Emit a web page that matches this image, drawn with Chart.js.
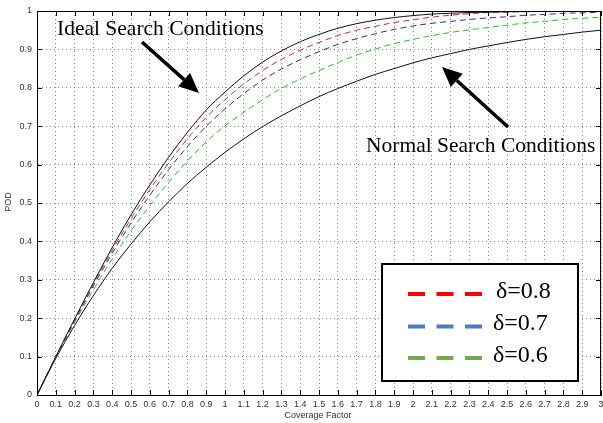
<!DOCTYPE html>
<html>
<head>
<meta charset="utf-8">
<script src="https://cdn.jsdelivr.net/npm/chart.js@4.4.0/dist/chart.umd.min.js"></script>
<style>
  html, body { margin: 0; padding: 0; background: #fff; }
  #wrap { width: 603px; height: 423px; }
</style>
</head>
<body>
<div id="wrap"><canvas id="pod" width="603" height="423"></canvas></div>
<script>
'use strict';

// **** Data ****

let coverage = [0, 0.1, 0.2, 0.3, 0.4, 0.5, 0.6, 0.7, 0.8, 0.9, 1.0,
  1.1, 1.2, 1.3, 1.4, 1.5, 1.6, 1.7, 1.8, 1.9, 2.0,
  2.1, 2.2, 2.3, 2.4, 2.5, 2.6, 2.7, 2.8, 2.9, 3.0];

let podIdeal = [0, 0.100, 0.198, 0.293, 0.384, 0.469, 0.547, 0.619, 0.684, 0.742, 0.789,
  0.831, 0.867, 0.896, 0.920, 0.939, 0.955, 0.967, 0.976, 0.983, 0.988,
  0.992, 0.994, 0.996, 0.997, 0.998, 0.999, 0.999, 1.000, 1.000, 1.000];

let podDelta08 = [0, 0.099, 0.196, 0.289, 0.377, 0.459, 0.535, 0.604, 0.667, 0.723, 0.769,
  0.810, 0.845, 0.874, 0.898, 0.918, 0.936, 0.950, 0.960, 0.970, 0.977,
  0.984, 0.989, 0.993, 0.996, 0.997, 0.998, 0.999, 0.999, 0.999, 0.999];

let podDelta07 = [0, 0.098, 0.193, 0.284, 0.369, 0.448, 0.520, 0.587, 0.647, 0.700, 0.745,
  0.785, 0.820, 0.849, 0.873, 0.894, 0.913, 0.928, 0.941, 0.952, 0.961,
  0.968, 0.973, 0.978, 0.982, 0.985, 0.989, 0.991, 0.994, 0.995, 0.997];

let podDelta06 = [0, 0.097, 0.189, 0.274, 0.354, 0.427, 0.493, 0.554, 0.609, 0.659, 0.701,
  0.736, 0.769, 0.798, 0.823, 0.845, 0.866, 0.885, 0.901, 0.915, 0.926,
  0.936, 0.944, 0.951, 0.957, 0.963, 0.969, 0.973, 0.978, 0.981, 0.984];

let podNormal = [0, 0.095, 0.181, 0.259, 0.330, 0.393, 0.451, 0.503, 0.551, 0.593, 0.632,
  0.667, 0.699, 0.727, 0.753, 0.777, 0.798, 0.817, 0.835, 0.850, 0.865,
  0.878, 0.889, 0.900, 0.909, 0.918, 0.926, 0.933, 0.939, 0.945, 0.950];

let xTickValues = [0, 0.1, 0.2, 0.3, 0.4, 0.5, 0.6, 0.7, 0.8, 0.9, 1,
  1.1, 1.2, 1.3, 1.4, 1.5, 1.6, 1.7, 1.8, 1.9, 2,
  2.1, 2.2, 2.3, 2.4, 2.5, 2.6, 2.7, 2.8, 2.9, 3];
let xTickLabels = ['0', '0.1', '0.2', '0.3', '0.4', '0.5', '0.6', '0.7', '0.8', '0.9', '1',
  '1.1', '1.2', '1.3', '1.4', '1.5', '1.6', '1.7', '1.8', '1.9', '2',
  '2.1', '2.2', '2.3', '2.4', '2.5', '2.6', '2.7', '2.8', '2.9', '3'];

let yTickValues = [0, 0.1, 0.2, 0.3, 0.4, 0.5, 0.6, 0.7, 0.8, 0.9, 1];
let yTickLabels = ['0', '0.1', '0.2', '0.3', '0.4', '0.5', '0.6', '0.7', '0.8', '0.9', '1'];

let legendLabels = ['\u03b4=0.8', '\u03b4=0.7', '\u03b4=0.6'];
let legendColors = ['#ff0000', '#4f7bbf', '#77a94c'];

let xTitle = 'Coverage Factor';
let yTitle = 'POD';
let idealNote = 'Ideal Search Conditions';
let normalNote = 'Normal Search Conditions';


// **** Helpers ****

function toPoints(values){
  return coverage.map((c, i) => ({ x: c, y: values[i] }));
}

function curve(label, values, color, dashed){
  return {
    label: label,
    data: toPoints(values),
    borderColor: color,
    borderWidth: 1,
    borderDash: dashed ? [6, 4] : [],
    pointRadius: 0,
    fill: false,
    cubicInterpolationMode: 'monotone'
  };
}

function drawArrow(ctx, x1, y1, x2, y2){
  let ang = Math.atan2(y2 - y1, x2 - x1);
  let headLen = 20;
  let headHalf = 9;
  let bx = x2 - headLen * Math.cos(ang);
  let by = y2 - headLen * Math.sin(ang);
  ctx.save();
  ctx.strokeStyle = '#000';
  ctx.fillStyle = '#000';
  ctx.lineWidth = 3.5;
  ctx.beginPath();
  ctx.moveTo(x1, y1);
  ctx.lineTo(bx, by);
  ctx.stroke();
  ctx.beginPath();
  ctx.moveTo(x2, y2);
  ctx.lineTo(bx + headHalf * Math.sin(ang), by - headHalf * Math.cos(ang));
  ctx.lineTo(bx - headHalf * Math.sin(ang), by + headHalf * Math.cos(ang));
  ctx.closePath();
  ctx.fill();
  ctx.restore();
}

// frame, inner ticks, notes and the boxed legend
let decorations = {
  id: 'decorations',
  afterDraw(chart){
    let ctx = chart.ctx;
    let area = chart.chartArea;
    let xs = chart.scales.x;
    let ys = chart.scales.y;

    ctx.save();
    ctx.strokeStyle = '#000';
    ctx.lineWidth = 1;
    ctx.strokeRect(area.left + 0.5, area.top + 0.5, area.right - area.left - 1, area.bottom - area.top);

    ctx.beginPath();
    xTickValues.forEach(v => {
      let px = Math.round(xs.getPixelForValue(v)) + 0.5;
      ctx.moveTo(px, area.bottom); ctx.lineTo(px, area.bottom - 5);
      ctx.moveTo(px, area.top); ctx.lineTo(px, area.top + 5);
    });
    yTickValues.forEach(v => {
      let py = Math.round(ys.getPixelForValue(v)) + 0.5;
      ctx.moveTo(area.left, py); ctx.lineTo(area.left + 5, py);
      ctx.moveTo(area.right, py); ctx.lineTo(area.right - 5, py);
    });
    ctx.stroke();

    // axis titles
    ctx.fillStyle = '#333';
    ctx.font = '9px "Liberation Sans", Arial, sans-serif';
    ctx.textAlign = 'center';
    ctx.textBaseline = 'middle';
    ctx.fillText(xTitle, 318, 416);
    ctx.save();
    ctx.translate(9, 202);
    ctx.rotate(-Math.PI / 2);
    ctx.fillText(yTitle, 0, 0);
    ctx.restore();

    // notes with arrows
    ctx.fillStyle = '#000';
    ctx.font = '21.5px "Liberation Serif", "Times New Roman", serif';
    ctx.textAlign = 'left';
    ctx.textBaseline = 'alphabetic';
    ctx.fillText(idealNote, 57, 35);
    ctx.fillText(normalNote, 366, 152);
    drawArrow(ctx, 142, 42, 199, 93);
    drawArrow(ctx, 508, 127, 442, 67);

    // legend box
    ctx.fillStyle = '#fff';
    ctx.fillRect(382, 264, 196, 117);
    ctx.lineWidth = 2;
    ctx.strokeStyle = '#000';
    ctx.strokeRect(382, 264, 196, 117);

    let rowY = [294, 326.5, 358];
    let textY = [298, 330, 362];
    ctx.font = '24px "Liberation Serif", "Times New Roman", serif';
    legendLabels.forEach((lab, i) => {
      ctx.save();
      ctx.strokeStyle = legendColors[i];
      ctx.lineWidth = 4;
      ctx.setLineDash([17, 11.5]);
      ctx.beginPath();
      ctx.moveTo(408, rowY[i]);
      ctx.lineTo(484, rowY[i]);
      ctx.stroke();
      ctx.restore();
      ctx.fillStyle = '#000';
      ctx.fillText(lab, i === 0 ? 496 : 493, textY[i]);
    });
    ctx.restore();
  }
};


// **** Chart ****

let tickFont = { family: '"Liberation Sans", Arial, sans-serif', size: 9 };

let chartObj = {
  type: 'line',
  data: {
    datasets: [
      curve('Ideal', podIdeal, '#111', false),
      curve(legendLabels[0], podDelta08, '#cc2a2a', true),
      curve(legendLabels[1], podDelta07, '#27309a', true),
      curve(legendLabels[2], podDelta06, '#1fc41f', true),
      curve('Normal', podNormal, '#111', false)
    ]
  },
  options: {
    responsive: false,
    devicePixelRatio: 1,
    animation: false,
    layout: { padding: { top: 11, right: 2, left: 0, bottom: 0 } },
    plugins: {
      legend: { display: false },
      tooltip: { enabled: false }
    },
    scales: {
      x: {
        type: 'linear',
        min: 0,
        max: 3,
        afterBuildTicks: s => { s.ticks = xTickValues.map(v => ({ value: v })); },
        afterFit: s => { s.height = 28; s.paddingRight = 0; s.paddingLeft = 0; },
        ticks: {
          autoSkip: false,
          maxRotation: 0,
          minRotation: 0,
          padding: 4,
          color: '#333',
          font: tickFont,
          callback: (v, i) => xTickLabels[i]
        },
        grid: { color: '#888', lineWidth: 1, drawTicks: false },
        border: { display: true, color: '#000', width: 1, dash: [1, 3] }
      },
      y: {
        type: 'linear',
        min: 0,
        max: 1,
        afterBuildTicks: s => { s.ticks = yTickValues.map(v => ({ value: v })); },
        afterFit: s => { s.width = 37; },
        ticks: {
          autoSkip: false,
          padding: 5,
          color: '#333',
          font: tickFont,
          callback: (v, i) => yTickLabels[i]
        },
        grid: { color: '#888', lineWidth: 1, drawTicks: false },
        border: { display: true, color: '#000', width: 1, dash: [1, 3] }
      }
    }
  },
  plugins: [decorations]
};

new Chart(document.getElementById('pod'), chartObj);
</script>
</body>
</html>
